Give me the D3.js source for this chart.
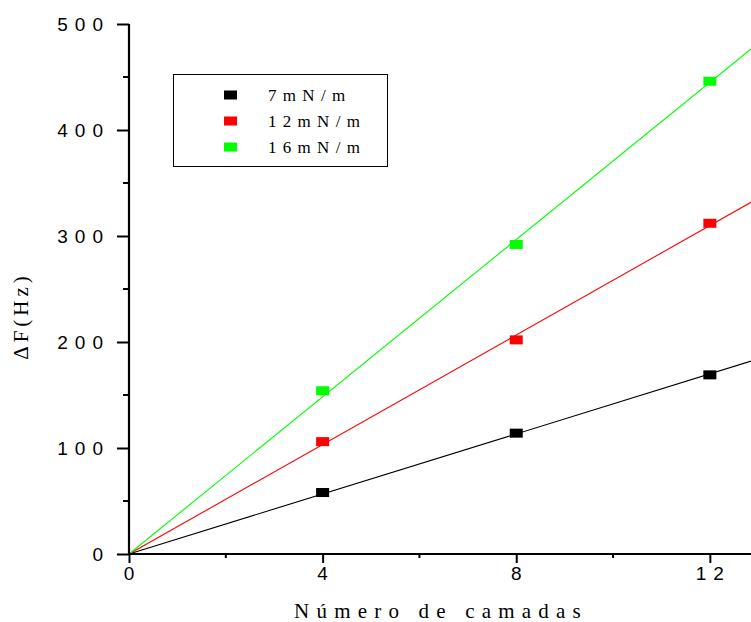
<!DOCTYPE html>
<html>
<head>
<meta charset="utf-8">
<script src="https://cdn.jsdelivr.net/npm/d3@7/dist/d3.min.js"></script>
<style>
  html, body { margin: 0; padding: 0; background: #fff; }
  svg { display: block; }
</style>
</head>
<body>
<svg id="chart" width="751" height="622"></svg>
<script>
// Number of layers deposited
const layers = [4, 8, 12];
// Frequency shift (Hz) for each surface pressure
const shift7 = [58, 114, 169];
const shift12 = [106, 202, 312];
const shift16 = [154, 292, 446];

const seriesNames = ["7mN/m", "12mN/m", "16mN/m"];
const seriesColors = ["#000000", "#ff0000", "#00ff00"];
const seriesValues = [shift7, shift12, shift16];

const xTicks = [0, 4, 8, 12];
const xMinor = [2, 6, 10];
const yTicks = [0, 100, 200, 300, 400, 500];
const yMinor = [50, 150, 250, 350, 450];

const svg = d3.select("#chart");
const x = d3.scaleLinear().domain([0, 12.85]).range([129, 751]);
const y = d3.scaleLinear().domain([0, 500]).range([554, 24]);

// Least-squares slope of a line forced through the origin
function slopeThroughOrigin(xs, ys) {
  const sxy = d3.sum(xs, (v, i) => v * ys[i]);
  const sxx = d3.sum(xs, v => v * v);
  return sxy / sxx;
}

const series = seriesNames.map((name, i) => ({
  name,
  color: seriesColors[i],
  points: layers.map((l, j) => ({ x: l, y: seriesValues[i][j] })),
  slope: slopeThroughOrigin(layers, seriesValues[i])
}));

// Fit lines
const plot = svg.append("g");
const xEnd = x.domain()[1];
series.forEach(s => {
  plot.append("line")
    .attr("x1", x(0)).attr("y1", y(0))
    .attr("x2", x(xEnd)).attr("y2", y(s.slope * xEnd))
    .attr("stroke", s.color)
    .attr("stroke-width", 1.1);
});

// Markers
const mw = 13, mh = 9;
series.forEach(s => {
  plot.selectAll(null).data(s.points).enter().append("rect")
    .attr("x", d => x(d.x) - mw / 2)
    .attr("y", d => y(d.y) - mh / 2)
    .attr("width", mw).attr("height", mh)
    .attr("fill", s.color);
});

// Axes
const tickFont = "'Liberation Sans', Arial, sans-serif";
const serif = "'Liberation Serif', 'Times New Roman', serif";

const yAxis = svg.append("g").attr("transform", `translate(${x(0)},0)`)
  .call(d3.axisLeft(y).tickValues(yTicks).tickSize(12).tickPadding(6).tickFormat(d3.format("d")));
yAxis.append("g").selectAll("line").data(yMinor).enter().append("line")
  .attr("x1", -6).attr("x2", 0).attr("y1", d => y(d)).attr("y2", d => y(d))
  .attr("stroke", "#000").attr("stroke-width", 2);

const xAxis = svg.append("g").attr("transform", `translate(0,${y(0)})`)
  .call(d3.axisBottom(x).tickValues(xTicks).tickSize(9).tickPadding(4).tickFormat(d3.format("d")));
xAxis.append("g").selectAll("line").data(xMinor).enter().append("line")
  .attr("y1", 0).attr("y2", 4).attr("x1", d => x(d)).attr("x2", d => x(d))
  .attr("stroke", "#000").attr("stroke-width", 2);

[yAxis, xAxis].forEach(a => {
  a.select(".domain").attr("stroke", "#000").attr("stroke-width", 2.2);
  a.selectAll(".tick line").attr("stroke", "#000").attr("stroke-width", 2);
  a.selectAll(".tick text")
    .attr("fill", "#000")
    .style("font-family", tickFont)
    .style("font-size", "19px")
    .style("letter-spacing", "7px");
});
// recentre letter-spaced labels
yAxis.selectAll(".tick text").attr("dx", "-1");
xAxis.selectAll(".tick text").attr("dx", "3");
// extend y axis line through the x axis
yAxis.select(".domain").attr("d", `M0,${y(500)}V${y(0) + 1}`);
xAxis.select(".domain").attr("d", `M${x(0) - 1},0H751`);

// Axis titles
svg.append("text")
  .attr("x", 441).attr("y", 618)
  .attr("text-anchor", "middle")
  .style("font-family", serif)
  .style("font-size", "21px")
  .style("letter-spacing", "7.2px")
  .text("Número de camadas");

svg.append("text")
  .attr("transform", "translate(28,316) rotate(-90)")
  .attr("text-anchor", "middle")
  .style("font-family", serif)
  .style("font-size", "21px")
  .style("letter-spacing", "4px")
  .text("ΔF(Hz)");

// Legend
const legend = svg.append("g");
legend.append("rect")
  .attr("x", 173.5).attr("y", 74.5).attr("width", 214).attr("height", 92)
  .attr("fill", "#fff").attr("stroke", "#000").attr("stroke-width", 1);
series.forEach((s, i) => {
  const cy = 95 + i * 26;
  legend.append("rect")
    .attr("x", 224).attr("y", cy - mh / 2).attr("width", mw).attr("height", mh)
    .attr("fill", s.color);
  legend.append("text")
    .attr("x", 268).attr("y", cy + 6)
    .style("font-family", serif)
    .style("font-size", "17px")
    .style("letter-spacing", "6.3px")
    .text(s.name);
});
</script>
</body>
</html>
